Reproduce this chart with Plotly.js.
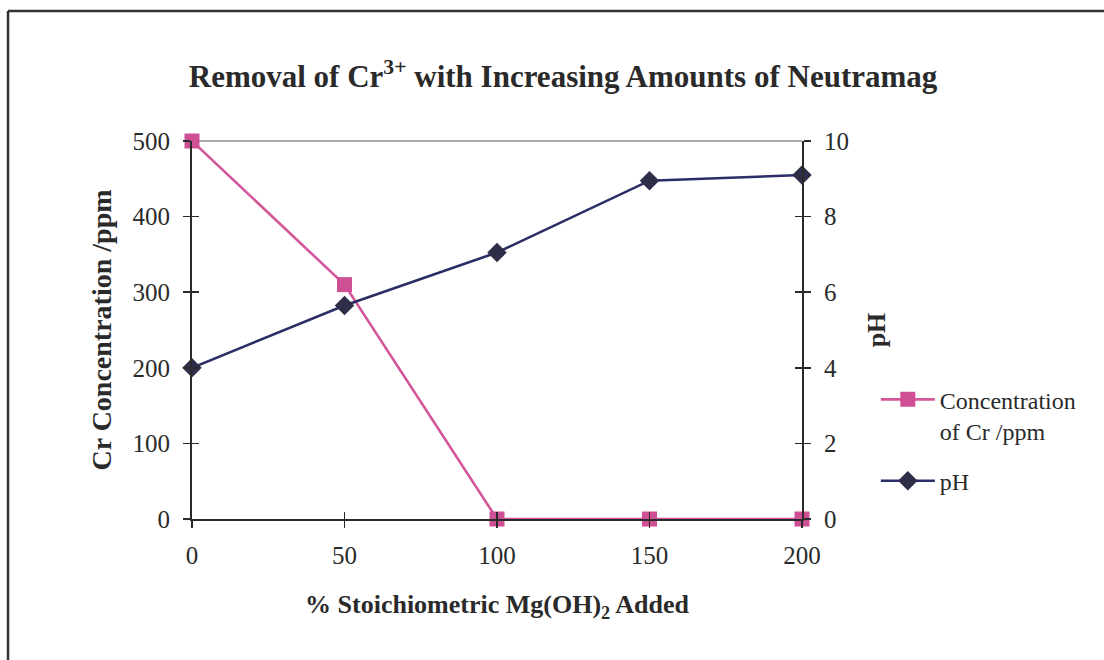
<!DOCTYPE html>
<html>
<head>
<meta charset="utf-8">
<script src="https://cdn.plot.ly/plotly-3.0.1.min.js"></script>
<style>
html,body{margin:0;padding:0;background:#fff;}
#chart{width:1104px;height:660px;}
</style>
</head>
<body>
<div id="chart"></div>
<script>
const stoichPct = [0, 50, 100, 150, 200];
const crConcentration = [500, 310, 0, 0, 0];
const pHValues = [4.0, 5.65, 7.05, 8.95, 9.1];
const leftTicks = [0, 100, 200, 300, 400, 500];
const rightTicks = [0, 2, 4, 6, 8, 10];
const xTicks = [0, 50, 100, 150, 200];

const serif = 'Liberation Serif, Times New Roman, serif';
const pink = '#D4579A';
const navy = '#2B2D66';
const ink = '#2a2a2a';

const traces = [
  {
    x: stoichPct, y: crConcentration, name: 'Concentration<br>of Cr /ppm',
    type: 'scatter', mode: 'lines+markers', xaxis: 'x', yaxis: 'y',
    line: {color: pink, width: 2.6},
    marker: {symbol: 'square', size: 15, color: '#CF4F94'},
    cliponaxis: false, legendgroup: 'a'
  },
  {
    x: stoichPct, y: pHValues, name: 'pH',
    type: 'scatter', mode: 'lines+markers', xaxis: 'x', yaxis: 'y2',
    line: {color: navy, width: 2.6},
    marker: {symbol: 'diamond', size: 15, color: '#2E2E48'},
    cliponaxis: false, legendgroup: 'b'
  },
  // helper traces for inner halves of crossing ticks
  {x: [], y: [], xaxis: 'x2', yaxis: 'y3', type: 'scatter', showlegend: false, hoverinfo: 'skip'},
  {x: [], y: [], xaxis: 'x2', yaxis: 'y4', type: 'scatter', showlegend: false, hoverinfo: 'skip'}
];

const axisFont = {family: serif, size: 25, color: ink};

const layout = {
  width: 1104, height: 660,
  paper_bgcolor: '#fff', plot_bgcolor: '#fff',
  margin: {l: 192, r: 302, t: 141, b: 141},
  title: {
    text: '<b>Removal of Cr<sup>3+</sup> with Increasing Amounts of Neutramag</b>',
    font: {family: serif, size: 31, color: ink},
    x: 0.51, xanchor: 'center', y: 0.885, yanchor: 'middle', yref: 'container'
  },
  showlegend: true,
  legend: {
    x: 1.121, xanchor: 'left', y: 0.375, yanchor: 'top',
    font: {family: serif, size: 24, color: ink},
    bgcolor: 'rgba(0,0,0,0)', valign: 'top',
    traceorder: 'grouped', tracegroupgap: 16, itemwidth: 54
  },
  xaxis: {
    range: [0, 200], tickvals: xTicks, ticktext: xTicks.map(String),
    ticks: 'outside', ticklen: 7, tickwidth: 1.5, tickcolor: ink,
    showline: true, linecolor: ink, linewidth: 2,
    showgrid: false, zeroline: false, tickfont: axisFont, ticklabelstandoff: 6,
    title: {text: '<b>% Stoichiometric Mg(OH)<sub>2</sub> Added</b>', font: {family: serif, size: 26, color: ink}, standoff: 27}
  },
  yaxis: {
    range: [0, 500], tickvals: leftTicks, ticktext: leftTicks.map(String),
    ticks: 'outside', ticklen: 7, tickwidth: 1.5, tickcolor: ink,
    showline: true, linecolor: ink, linewidth: 2,
    showgrid: false, zeroline: false, tickfont: axisFont, ticklabelstandoff: 8,
    title: {text: '<b>Cr Concentration /ppm</b>', font: {family: serif, size: 28, color: ink}, standoff: 13}
  },
  yaxis2: {
    range: [0, 10], tickvals: rightTicks, ticktext: rightTicks.map(String),
    overlaying: 'y', side: 'right',
    ticks: 'outside', ticklen: 7, tickwidth: 1.5, tickcolor: ink,
    showline: true, linecolor: ink, linewidth: 2,
    showgrid: false, zeroline: false, tickfont: axisFont, ticklabelstandoff: 8,
    title: {text: '<b>pH</b>', font: {family: serif, size: 26, color: ink}, standoff: 19}
  },
  xaxis2: {
    range: [0, 200], tickvals: xTicks, overlaying: 'x', side: 'bottom',
    ticks: 'inside', ticklen: 7, tickwidth: 1.5, tickcolor: ink,
    showticklabels: false, showline: false, showgrid: false, zeroline: false
  },
  yaxis3: {
    range: [0, 500], tickvals: leftTicks, overlaying: 'y', side: 'left',
    ticks: 'inside', ticklen: 7, tickwidth: 1.5, tickcolor: ink,
    showticklabels: false, showline: false, showgrid: false, zeroline: false
  },
  yaxis4: {
    range: [0, 10], tickvals: rightTicks, overlaying: 'y', side: 'right',
    ticks: 'inside', ticklen: 7, tickwidth: 1.5, tickcolor: ink,
    showticklabels: false, showline: false, showgrid: false, zeroline: false
  },
  shapes: [
    {type: 'line', xref: 'paper', yref: 'paper', x0: 0, x1: 1, y0: 1, y1: 1,
     line: {color: '#8f8f8f', width: 1.3}, layer: 'below'},
    {type: 'line', xref: 'paper', yref: 'paper', x0: -0.3016, x1: 1.5, y0: 1.344, y1: 1.344,
     line: {color: '#333', width: 2.5}},
    {type: 'line', xref: 'paper', yref: 'paper', x0: -0.3016, x1: -0.3016, y0: 1.344, y1: -0.4,
     line: {color: '#333', width: 2.5}}
  ]
};

Plotly.newPlot('chart', traces, layout, {displayModeBar: false, staticPlot: true});
</script>
</body>
</html>
